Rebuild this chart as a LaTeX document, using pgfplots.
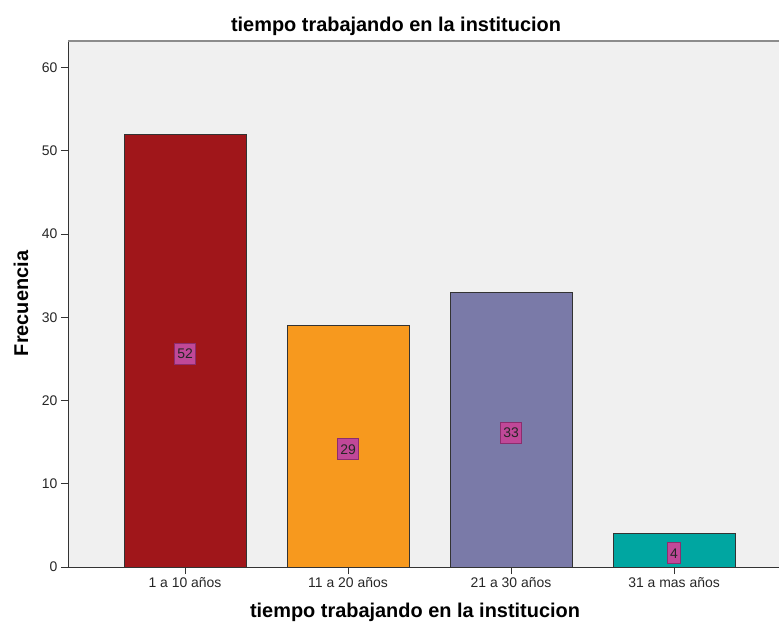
\documentclass[border=0pt]{standalone}
\usepackage{fontspec}
\setmainfont{Liberation Sans}
\usepackage{pgfplots}
\pgfplotsset{compat=1.18}

\definecolor{bgcol}{RGB}{240,240,240}
\definecolor{barA}{RGB}{160,22,26}
\definecolor{barB}{RGB}{247,153,30}
\definecolor{barC}{RGB}{122,122,168}
\definecolor{barD}{RGB}{0,166,161}
\definecolor{lblfill}{RGB}{192,72,152}
\definecolor{lbldraw}{RGB}{140,45,110}

\begin{document}
\begin{tikzpicture}
\path[use as bounding box] (-68bp,-57bp) rectangle (711bp,567bp);
\begin{axis}[
  at={(0,0)}, anchor=south west,
  scale only axis, width=711bp, height=526bp,
  xmin=-0.718, xmax=3.644, ymin=0, ymax=63.2,
  clip=false,
  axis x line*=bottom, axis y line*=left,
  axis line style={-, draw=black!80, line width=1pt},
  axis background/.style={fill=bgcol},
  ybar, bar width=0.749, bar shift=0pt,
  xtick={0,1,2,3},
  xticklabels={1 a 10 años, 11 a 20 años, 21 a 30 años, 31 a mas años},
  ytick={0,10,...,60},
  tick align=outside, major tick length=7bp,
  tick style={black!80, line width=0.8pt},
  tick label style={font=\fontsize{14}{16}\selectfont, text=black!85},
  /pgf/number format/assume math mode=true,
  nodes near coords,
  visualization depends on={y \as \rawy},
  every node near coord/.append style={
    anchor=center,
    shift={(axis direction cs:0,-\rawy/2)}, yshift=-3bp,
    fill=lblfill, draw=lbldraw, line width=1pt,
    inner sep=2.5bp, minimum height=21bp, minimum width=13bp,
    font=\fontsize{14}{16}\selectfont, text=black!85},
]
\addplot[fill=barA, draw=black!80, line width=0.8pt] coordinates {(0,52)};
\addplot[fill=barB, draw=black!80, line width=0.8pt] coordinates {(1,29)};
\addplot[fill=barC, draw=black!80, line width=0.8pt] coordinates {(2,33)};
\addplot[fill=barD, draw=black!80, line width=0.8pt] coordinates {(3,4)};
\draw[black!45, line width=1.2pt] (rel axis cs:0,1) -- (rel axis cs:1,1);
\end{axis}
\node[anchor=base, font=\fontsize{20}{24}\selectfont\bfseries] at (328bp,535bp) {tiempo trabajando en la institucion};
\node[anchor=base, font=\fontsize{20}{24}\selectfont\bfseries] at (347bp,-50bp) {tiempo trabajando en la institucion};
\node[anchor=base, rotate=90, font=\fontsize{20}{24}\selectfont\bfseries] at (-40bp,263.5bp) {Frecuencia};
\end{tikzpicture}
\end{document}
